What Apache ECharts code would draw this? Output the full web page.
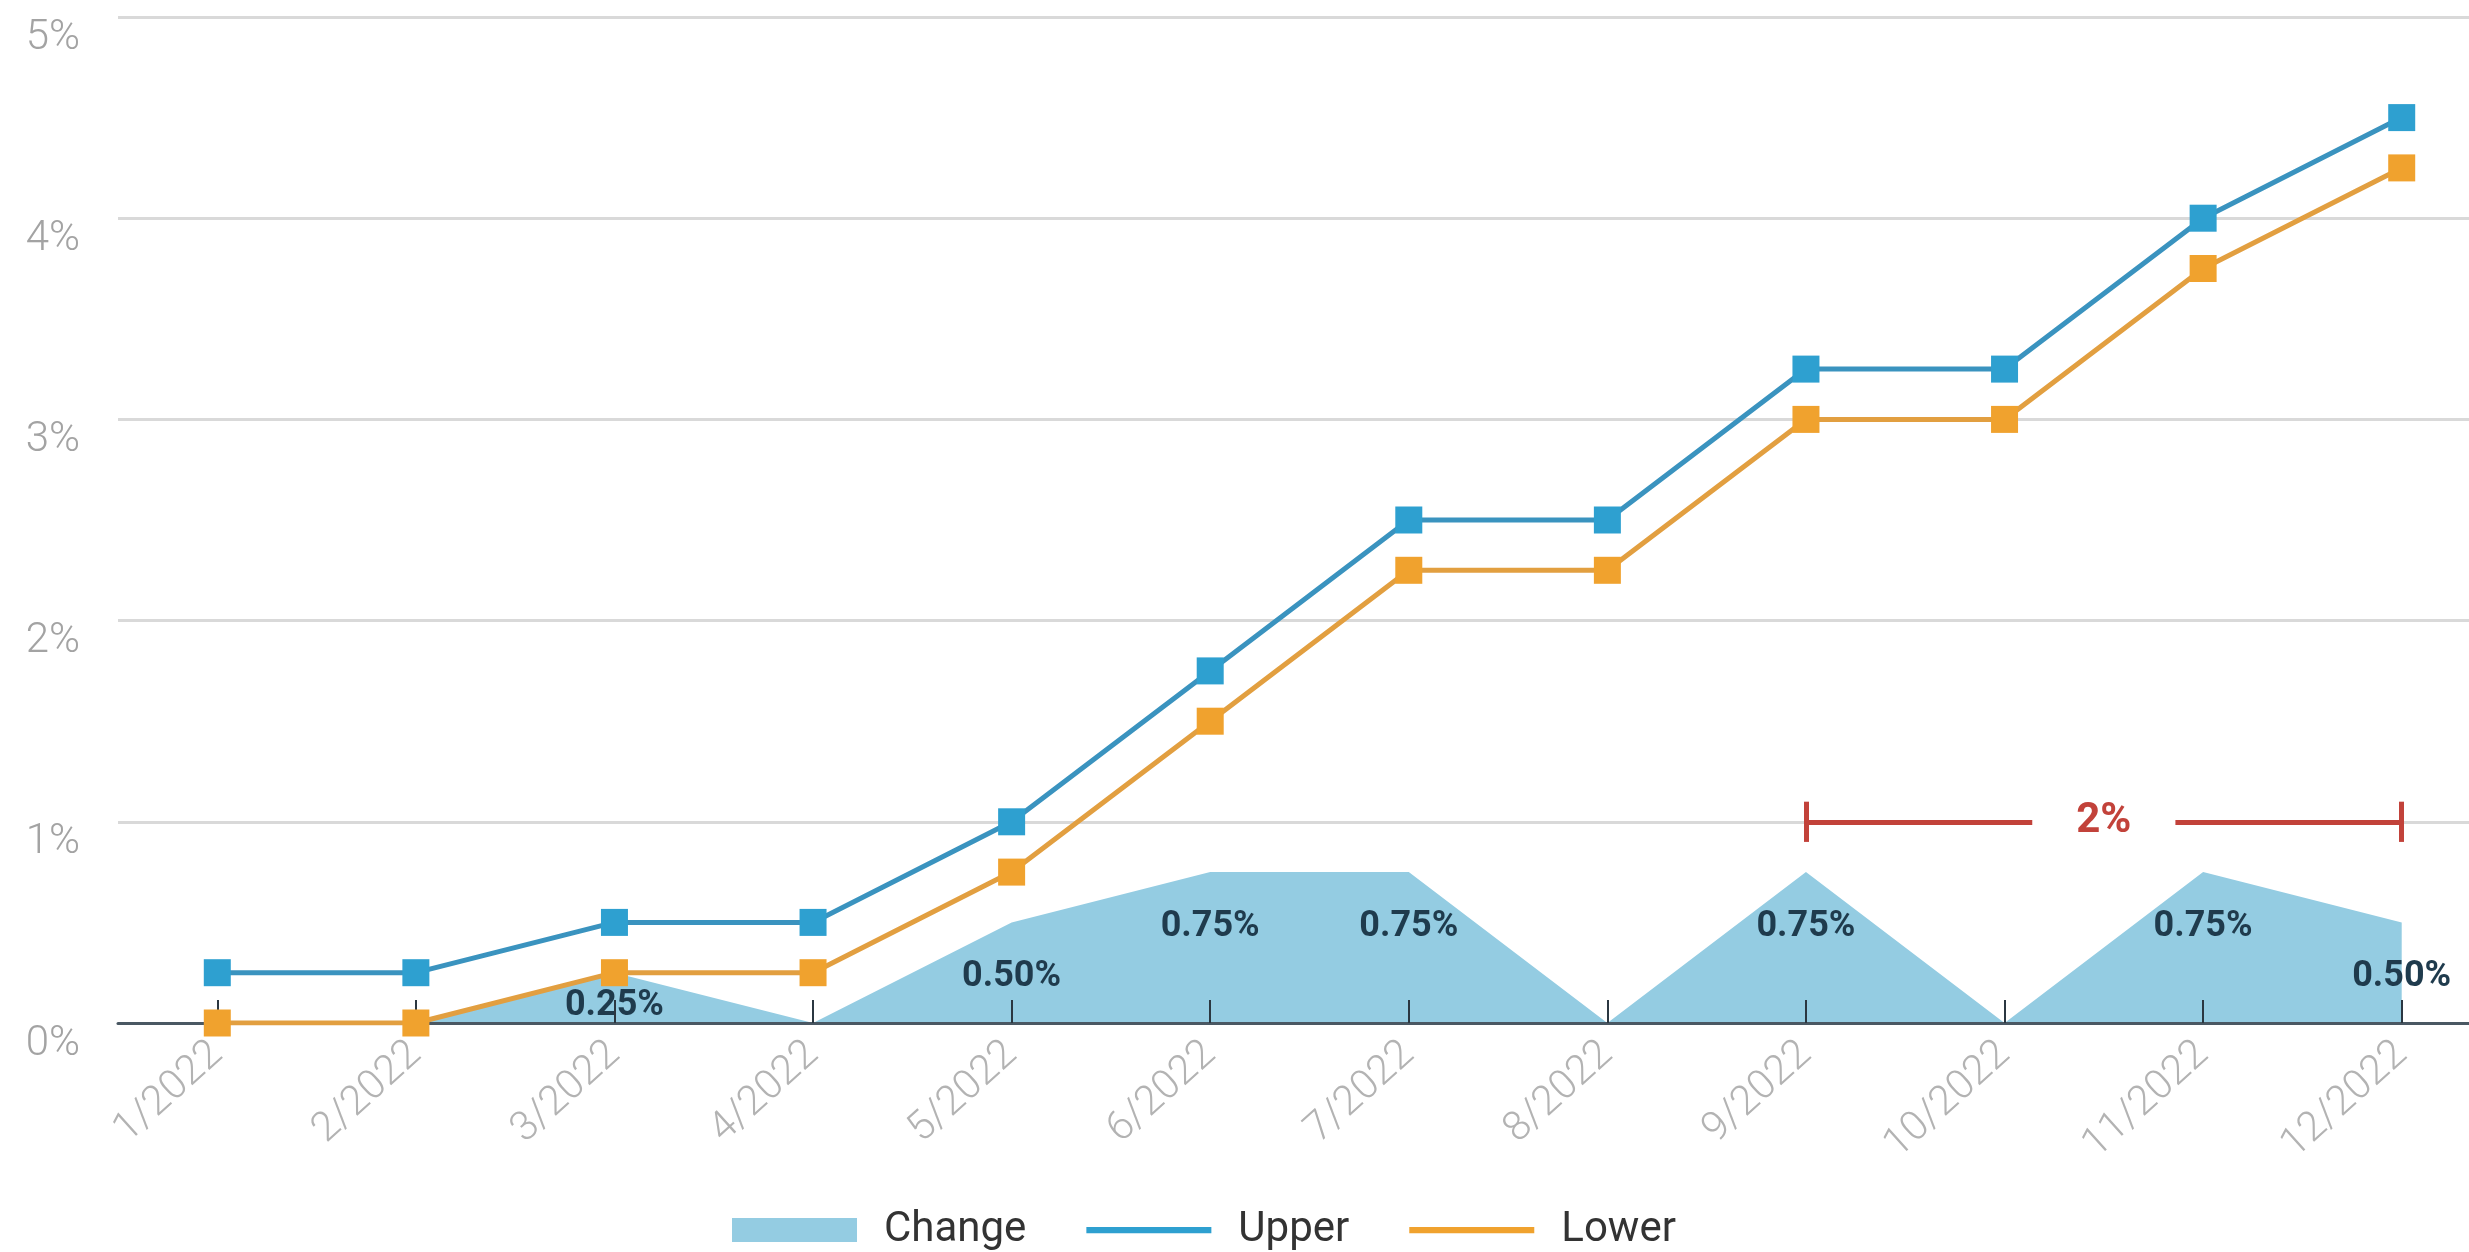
<!DOCTYPE html>
<html>
<head>
<meta charset="utf-8">
<title>Rate range 2022</title>
<script src="https://cdn.jsdelivr.net/npm/echarts@6/dist/echarts.min.js"></script>
<style>
  html, body { margin: 0; padding: 0; background: #fff; }
  #main { width: 2469px; height: 1252px; }
</style>
</head>
<body>
<div id="main"></div>
<script>
// data
var months = ['1/2022', '2/2022', '3/2022', '4/2022', '5/2022', '6/2022',
              '7/2022', '8/2022', '9/2022', '10/2022', '11/2022', '12/2022'];
var changeValues = [0, 0, 0.25, 0, 0.5, 0.75, 0.75, 0, 0.75, 0, 0.75, 0.5];
var upperValues = [0.25, 0.25, 0.5, 0.5, 1, 1.75, 2.5, 2.5, 3.25, 3.25, 4, 4.5];
var lowerValues = [0, 0, 0.25, 0.25, 0.75, 1.5, 2.25, 2.25, 3, 3, 3.75, 4.25];
var yMin = 0, yMax = 5, yStep = 1;

// the red "2%" bracket
var bracketFrom = '9/2022';
var bracketTo = '12/2022';
var bracketLevel = 1;
var bracketCap = 0.1;
var bracketText = '2%';

var font = 'Roboto, "Noto Sans", sans-serif';
var red = '#c2423a';
var lineIcon = 'path://M0,0 H100 V5 H0 Z';

var myChart = echarts.init(document.getElementById('main'));

// change area, label each non-zero step
var changeData = changeValues.map(function (v) {
  return {
    value: v,
    label: { show: v > 0, distance: v < 0.3 ? 15 : 37 }
  };
});

var option = {
  animation: false,
  grid: { left: 118, top: 17, width: 2383, height: 1006, outerBoundsMode: 'none', containLabel: false },
  legend: {
    left: 727,
    top: 1204,
    itemWidth: 125,
    itemHeight: 24,
    itemGap: 60,
    textStyle: { fontFamily: font, fontSize: 42, color: '#333', padding: [0, 0, 0, 22] },
    data: [
      { name: 'Change', icon: 'rect' },
      { name: 'Upper', icon: lineIcon },
      { name: 'Lower', icon: lineIcon }
    ]
  },
  xAxis: {
    type: 'category',
    data: months,
    boundaryGap: true,
    z: 1.5,
    axisLine: { show: true, lineStyle: { color: '#4a5863', width: 3 } },
    axisTick: {
      show: true,
      alignWithLabel: true,
      inside: true,
      length: 23,
      lineStyle: { color: '#2b3741', width: 2 }
    },
    axisLabel: {
      rotate: 42,
      margin: 26,
      fontFamily: font,
      fontSize: 41,
      fontWeight: 300,
      color: '#b3b3b3'
    },
    splitLine: { show: false }
  },
  yAxis: {
    type: 'value',
    min: yMin,
    max: yMax,
    interval: yStep,
    axisLine: { show: false },
    axisTick: { show: false },
    axisLabel: {
      margin: 38,
      verticalAlign: 'top',
      fontFamily: font,
      fontSize: 42,
      fontWeight: 300,
      color: '#a3a3a3',
      formatter: '{value}%'
    },
    splitLine: { lineStyle: { color: '#d9d9d9', width: 3 } }
  },
  series: [
    {
      name: 'Change',
      type: 'line',
      z: 1,
      data: changeData,
      symbol: 'circle',
      symbolSize: 0.1,
      showSymbol: true,
      itemStyle: { color: '#94cce2' },
      lineStyle: { width: 0 },
      areaStyle: { color: '#94cce2', opacity: 1 },
      label: {
        position: 'bottom',
        fontFamily: font,
        fontSize: 36,
        fontWeight: 'bold',
        color: '#1f3b4d',
        formatter: function (p) { return p.value.toFixed(2) + '%'; }
      }
    },
    {
      name: 'Upper',
      type: 'line',
      data: upperValues,
      symbol: 'rect',
      symbolSize: 27,
      itemStyle: { color: '#2ea0d0' },
      lineStyle: { color: '#3a93bf', width: 5 },
      markLine: {
        silent: true,
        symbol: 'none',
        lineStyle: { color: red, width: 5, type: 'solid' },
        label: { show: false },
        data: [
          [
            {
              xAxis: bracketFrom, yAxis: bracketLevel,
              label: {
                show: true,
                position: 'middle',
                distance: 0,
                verticalAlign: 'middle',
                formatter: bracketText,
                fontFamily: font,
                fontSize: 42,
                fontWeight: 'bold',
                color: red,
                backgroundColor: '#fff',
                padding: [10, 44, 0, 44]
              }
            },
            { xAxis: bracketTo, yAxis: bracketLevel }
          ],
          [{ xAxis: bracketFrom, yAxis: bracketLevel - bracketCap }, { xAxis: bracketFrom, yAxis: bracketLevel + bracketCap }],
          [{ xAxis: bracketTo, yAxis: bracketLevel - bracketCap }, { xAxis: bracketTo, yAxis: bracketLevel + bracketCap }]
        ]
      }
    },
    {
      name: 'Lower',
      type: 'line',
      data: lowerValues,
      symbol: 'rect',
      symbolSize: 27,
      itemStyle: { color: '#f0a22e' },
      lineStyle: { color: '#e29f40', width: 5 }
    }
  ]
};

myChart.setOption(option);
</script>
</body>
</html>
